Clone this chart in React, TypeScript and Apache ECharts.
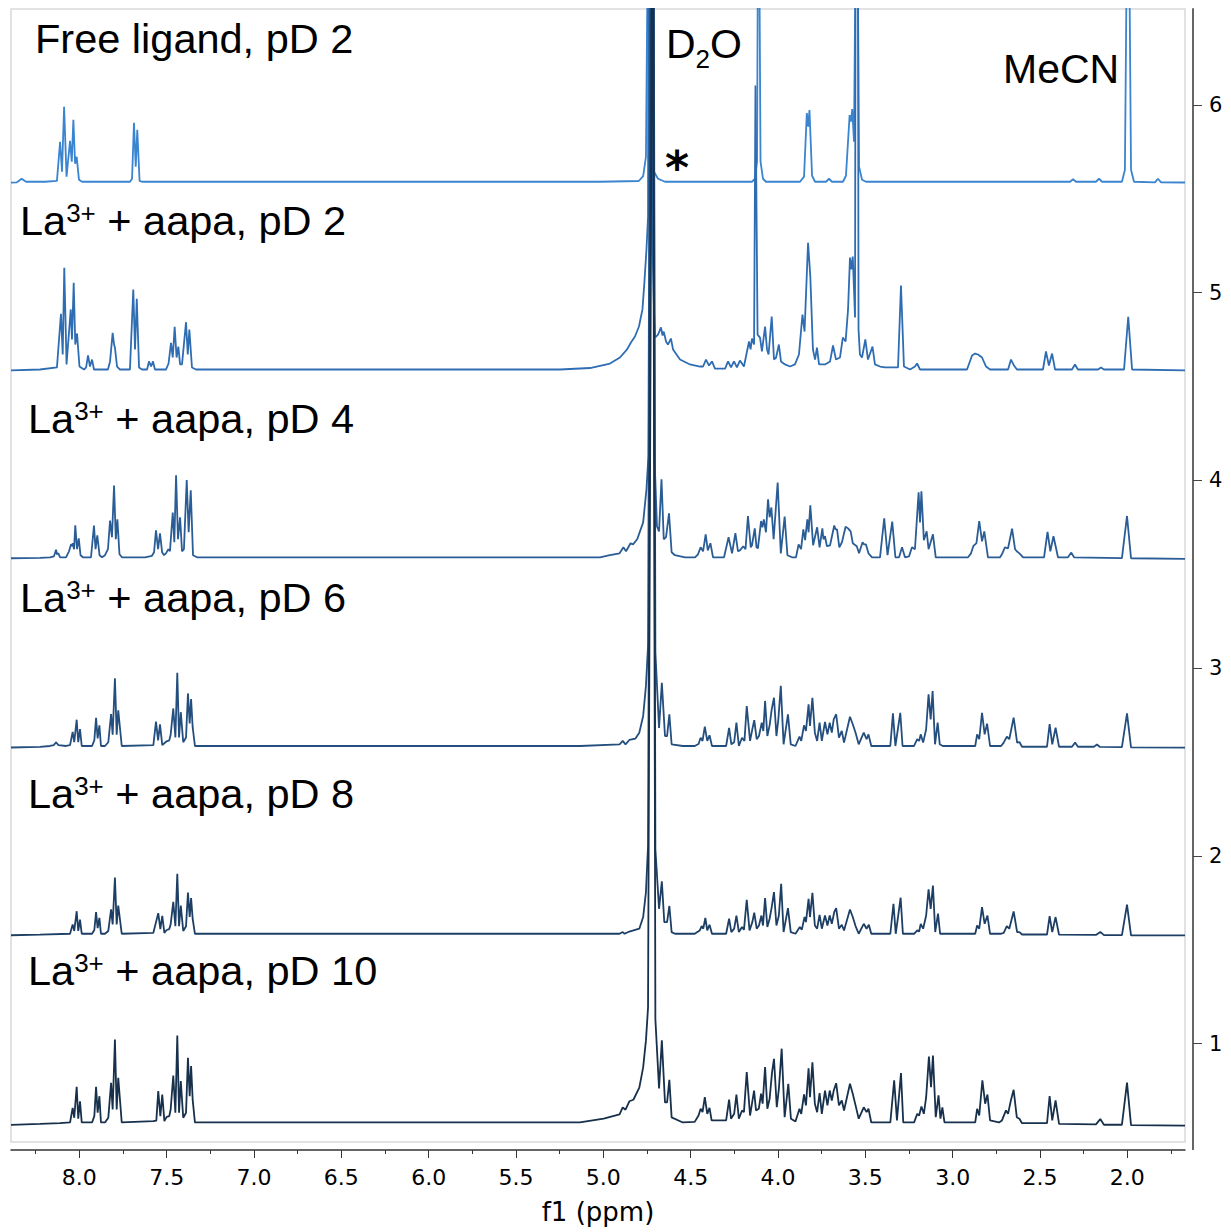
import React, { useEffect, useRef } from "react";
import * as echarts from "echarts";

type Pt = [number, number];

// 1H NMR traces: [chemical shift (ppm), intensity above the trace's own baseline]
const freeLigandPD2: Pt[] = [
  [8.391, -0.005], [8.357, -0.003], [8.33, 0.016], [8.305, 0], [8.196, 0], [8.128, 0.005],
  [8.11, 0.213], [8.099, 0.053], [8.087, 0.399], [8.073, 0.027], [8.053, 0.218], [8.043, 0.107],
  [8.034, 0.33], [8.024, 0.096], [8.015, 0.133], [8.002, 0.011], [7.984, 0], [7.71, 0],
  [7.698, 0.016], [7.687, 0.314], [7.677, 0.08], [7.668, 0.277], [7.655, 0.005], [7.641, 0],
  [5.019, 0], [4.797, 0.004], [4.772, 0.03], [4.756, 0.133], [4.739, 2.0], [4.724, 0.16],
  [4.71, 0.053], [4.687, 0.016], [4.647, 0], [4.149, 0], [4.132, 0.016], [4.12, 0.107],
  [4.112, 2.0], [4.1, 0.107], [4.086, 0.016], [4.069, 0], [3.874, 0], [3.851, 0.027],
  [3.835, 0.366], [3.827, 0.293], [3.82, 0.382], [3.805, 0.032], [3.788, 0], [3.725, 0],
  [3.708, 0.016], [3.691, 0], [3.628, 0], [3.611, 0.032], [3.59, 0.355], [3.582, 0.32],
  [3.575, 0.387], [3.565, 0.213], [3.549, 2.0], [3.536, 0.08], [3.519, 0.011], [3.496, 0],
  [2.328, 0], [2.311, 0.013], [2.294, 0], [2.18, 0], [2.162, 0.016], [2.145, 0], [2.031, 0],
  [2.014, 0.064], [1.996, 2.0], [1.979, 0.064], [1.962, 0], [1.842, -0.003], [1.825, 0.016],
  [1.807, -0.003], [1.67, -0.004],
];

const laAapaPD2: Pt[] = [
  [8.391, -0.005], [8.225, 0], [8.128, 0.011], [8.105, 0.297], [8.095, 0.08], [8.086, 0.542],
  [8.073, 0.027], [8.049, 0.32], [8.042, 0.16], [8.032, 0.462], [8.023, 0.133], [8.013, 0.192],
  [7.999, 0.016], [7.973, 0], [7.961, 0.011], [7.95, 0.075], [7.939, 0.016], [7.927, 0.053],
  [7.916, 0], [7.836, 0], [7.824, 0.043], [7.809, 0.195], [7.801, 0.133], [7.796, 0.117],
  [7.784, 0.016], [7.767, 0], [7.71, 0], [7.691, 0.426], [7.681, 0.107], [7.671, 0.377],
  [7.658, 0.011], [7.641, 0], [7.612, 0], [7.601, 0.043], [7.589, 0.016], [7.578, 0.043],
  [7.567, 0], [7.504, 0], [7.489, 0.032], [7.475, 0.142], [7.465, 0.064], [7.454, 0.227],
  [7.443, 0.064], [7.433, 0.122], [7.423, 0.027], [7.412, 0.027], [7.389, 0.252], [7.379, 0.08],
  [7.37, 0.213], [7.355, 0.011], [7.332, 0],
  [5.248, 0], [5.076, 0.008], [4.962, 0.032], [4.905, 0.064], [4.864, 0.107], [4.842, 0.144],
  [4.819, 0.176], [4.796, 0.229], [4.776, 0.32], [4.765, 0.463], [4.753, 0.639], [4.744, 0.815],
  [4.733, 7], [4.718, 0.639], [4.71, 0.32], [4.704, 0.17], [4.687, 0.186], [4.67, 0.224],
  [4.661, 0.181], [4.654, 0.202], [4.641, 0.149], [4.63, 0.133], [4.613, 0.165], [4.601, 0.107],
  [4.561, 0.053], [4.504, 0.027], [4.447, 0.016], [4.429, 0.016], [4.412, 0.053], [4.395, 0.021],
  [4.378, 0.043], [4.361, 0.005], [4.303, 0.005], [4.286, 0.043], [4.269, 0.011], [4.252, 0.043],
  [4.235, 0.011], [4.218, 0.048], [4.195, 0.016], [4.166, 0.149], [4.157, 0.107], [4.149, 0.165],
  [4.137, 0.133], [4.129, 1.512], [4.117, 0.186], [4.103, 0.17], [4.092, 0.096], [4.074, 0.229],
  [4.063, 0.107], [4.054, 0.08], [4.036, 0.282], [4.023, 0.053], [4.011, 0.064], [3.995, 0.133],
  [3.983, 0.043], [3.96, 0.027], [3.931, 0.016], [3.903, 0.027], [3.88, 0.08], [3.86, 0.293],
  [3.848, 0.202], [3.828, 0.675], [3.815, 0.495], [3.8, 0.107], [3.788, 0.053], [3.777, 0.117],
  [3.765, 0.027], [3.731, 0.027], [3.702, 0.043], [3.685, 0.128], [3.668, 0.053], [3.645, 0.064],
  [3.629, 0.17], [3.613, 0.149], [3.599, 0.32], [3.588, 0.596], [3.58, 0.533], [3.572, 0.602],
  [3.559, 0.277], [3.549, 7], [3.539, 0.213], [3.531, 0.08], [3.519, 0.064], [3.5, 0.16],
  [3.485, 0.053], [3.459, 0.122], [3.445, 0.027], [3.416, 0.016], [3.387, 0.011], [3.313, 0.011],
  [3.296, 0.447], [3.279, 0.016], [3.244, 0], [3.216, 0.016], [3.204, 0.032], [3.187, 0],
  [2.918, 0], [2.889, 0.075], [2.872, 0.085], [2.855, 0.08], [2.832, 0.064], [2.809, 0.016],
  [2.786, 0], [2.683, 0], [2.666, 0.053], [2.649, 0.021], [2.632, 0], [2.483, 0], [2.466, 0.096],
  [2.449, 0.021], [2.431, 0.085], [2.414, 0], [2.317, 0], [2.3, 0.027], [2.283, 0], [2.168, 0],
  [2.151, 0.011], [2.134, 0], [2.019, 0], [1.995, 0.281], [1.973, 0], [1.67, -0.005],
];

const laAapaPD4: Pt[] = [
  [8.391, -0.005], [8.225, -0.003], [8.168, 0], [8.145, 0.005], [8.133, 0.04], [8.128, 0.016],
  [8.12, 0.021], [8.11, 0], [8.076, 0], [8.059, 0.032], [8.047, 0.069], [8.042, 0.059],
  [8.038, 0.075], [8.03, 0.043], [8.023, 0.17], [8.013, 0.043], [8.003, 0.101], [7.993, 0.011],
  [7.979, 0], [7.933, 0], [7.916, 0.169], [7.907, 0.043], [7.897, 0.117], [7.884, 0.011],
  [7.87, 0], [7.853, 0.011], [7.836, 0.043], [7.824, 0.195], [7.813, 0.107], [7.801, 0.382],
  [7.791, 0.096], [7.782, 0.202], [7.77, 0.016], [7.755, 0], [7.624, 0], [7.584, 0.008],
  [7.572, 0.027], [7.561, 0.144], [7.549, 0.043], [7.538, 0.128], [7.526, 0.027], [7.515, 0.011],
  [7.504, 0.021], [7.49, 0.043], [7.481, 0.032], [7.465, 0.238], [7.456, 0.08], [7.446, 0.437],
  [7.435, 0.096], [7.423, 0.213], [7.412, 0.032], [7.401, 0.043], [7.385, 0.412], [7.374, 0.133],
  [7.362, 0.357], [7.349, 0.011], [7.326, 0],
  [5.019, 0], [4.962, 0.011], [4.907, 0.021], [4.885, 0.053], [4.87, 0.032], [4.844, 0.075],
  [4.83, 0.069], [4.806, 0.096], [4.772, 0.186], [4.753, 0.362], [4.742, 0.538], [4.718, 7],
  [4.707, 0.533], [4.693, 0.165], [4.681, 0.138], [4.667, 0.415], [4.654, 0.096], [4.641, 0.107],
  [4.624, 0.234], [4.609, 0.027], [4.59, 0.011], [4.532, 0],
  [4.475, 0], [4.458, 0.016], [4.443, 0.053], [4.429, 0.032], [4.414, 0.122], [4.402, 0.037],
  [4.387, 0.075], [4.372, 0], [4.309, 0], [4.283, 0.107], [4.263, 0.021], [4.244, 0.128],
  [4.229, 0.032], [4.218, 0.037], [4.199, 0.059], [4.186, 0.043], [4.172, 0.22], [4.156, 0.053],
  [4.149, 0.064], [4.133, 0.154], [4.123, 0.053], [4.115, 0.048], [4.097, 0.193], [4.089, 0.16],
  [4.081, 0.202], [4.069, 0.133], [4.057, 0.309], [4.048, 0.213], [4.038, 0.265], [4.025, 0.096],
  [4.002, 0.398], [3.984, 0.021], [3.962, 0.217], [3.946, 0.011], [3.92, 0],
  [3.897, 0], [3.882, 0.069], [3.868, 0.043], [3.855, 0.149], [3.845, 0.091], [3.832, 0.202],
  [3.825, 0.133], [3.815, 0.277], [3.799, 0.064], [3.776, 0.16], [3.762, 0.053], [3.746, 0.154],
  [3.74, 0.096], [3.731, 0.112], [3.72, 0.059], [3.702, 0.064], [3.678, 0.169], [3.671, 0.149],
  [3.662, 0.149], [3.649, 0.053], [3.634, 0.08], [3.613, 0.163], [3.599, 0.154], [3.584, 0.138],
  [3.572, 0.075], [3.549, 0.059], [3.536, 0.021], [3.516, 0.08], [3.508, 0.069], [3.497, 0.069],
  [3.482, 0.021], [3.462, 0],
  [3.416, 0], [3.392, 0.208], [3.373, 0.011], [3.346, 0.19], [3.328, 0], [3.307, 0], [3.29, 0.053],
  [3.273, 0], [3.25, 0.005], [3.233, 0.053], [3.216, 0.043], [3.195, 0.346], [3.187, 0.186],
  [3.179, 0.351], [3.165, 0.091], [3.149, 0.138], [3.138, 0.043], [3.113, 0.122], [3.097, 0],
  [2.912, 0], [2.895, 0.021], [2.882, 0.059], [2.864, 0.075], [2.848, 0.193], [2.832, 0.085],
  [2.819, 0.138], [2.798, 0], [2.729, 0], [2.718, 0.016], [2.701, 0.053], [2.683, 0.048],
  [2.66, 0.153], [2.643, 0.043], [2.633, 0.032], [2.618, 0.021], [2.597, 0], [2.477, 0],
  [2.457, 0.135], [2.441, 0.032], [2.423, 0.112], [2.397, 0], [2.34, 0], [2.321, 0.025],
  [2.305, 0], [2.031, -0.004], [2.002, 0.22], [1.979, -0.005], [1.67, -0.008],
];

const laAapaPD6: Pt[] = [
  [8.391, -0.008], [8.225, -0.005], [8.168, 0], [8.145, 0.005], [8.133, 0.02], [8.12, 0.005],
  [8.076, 0], [8.053, 0.005], [8.038, 0.075], [8.029, 0.02], [8.015, 0.14], [8.006, 0.02],
  [7.996, 0.09], [7.986, 0], [7.927, 0], [7.914, 0.03], [7.904, 0.15], [7.895, 0.04], [7.885, 0.11],
  [7.876, 0], [7.853, 0], [7.834, 0.02], [7.818, 0.17], [7.809, 0.06], [7.796, 0.36], [7.786, 0.06],
  [7.777, 0.19], [7.757, 0], [7.576, 0.005], [7.561, 0.13], [7.549, 0.03], [7.538, 0.115],
  [7.525, 0.005], [7.5, 0.025], [7.485, 0.03], [7.477, 0.06], [7.462, 0.2], [7.45, 0.045],
  [7.439, 0.39], [7.429, 0.045], [7.419, 0.18], [7.405, 0.02], [7.389, 0.045], [7.378, 0.28],
  [7.368, 0.12], [7.36, 0.25], [7.351, 0.1], [7.338, 0], [7.32, 0],
  [5.134, 0], [4.907, 0.009], [4.889, 0.027], [4.873, 0.009], [4.851, 0.032], [4.817, 0.039],
  [4.794, 0.071], [4.772, 0.16], [4.756, 0.32], [4.744, 0.533], [4.718, 7], [4.702, 0.5],
  [4.681, 0.096], [4.665, 0.336], [4.647, 0.053], [4.635, 0.053], [4.622, 0.169], [4.609, 0.009],
  [4.545, 0],
  [4.477, 0], [4.455, 0.011], [4.443, 0.044], [4.432, 0.027], [4.419, 0.103], [4.405, 0.027],
  [4.392, 0.057], [4.378, 0], [4.297, 0], [4.28, 0.097], [4.267, 0.009], [4.251, 0.02],
  [4.238, 0.124], [4.224, 0], [4.206, 0.044], [4.192, 0.027], [4.179, 0.213], [4.16, 0.027],
  [4.147, 0.089], [4.136, 0.138], [4.122, 0.036], [4.109, 0.053], [4.093, 0.124], [4.084, 0.08],
  [4.074, 0.24], [4.061, 0.053], [4.048, 0.11], [4.036, 0.195], [4.023, 0.257], [4.009, 0.053],
  [3.998, 0.142], [3.984, 0.32], [3.968, 0.009], [3.943, 0.169], [3.927, 0.009], [3.9, 0],
  [3.877, 0.05], [3.867, 0.027], [3.851, 0.11], [3.84, 0.08], [3.825, 0.222], [3.817, 0.107],
  [3.803, 0.257], [3.789, 0.071], [3.776, 0.027], [3.762, 0.124], [3.749, 0.027], [3.731, 0.128],
  [3.717, 0.062], [3.704, 0.124], [3.692, 0.071], [3.681, 0.142], [3.667, 0.169], [3.651, 0.045],
  [3.635, 0.08], [3.622, 0.018], [3.588, 0.156], [3.572, 0.116], [3.556, 0.071], [3.538, 0.009],
  [3.509, 0.071], [3.493, 0.036], [3.482, 0.062], [3.466, 0], [3.357, 0], [3.342, 0.174],
  [3.328, 0], [3.3, 0.177], [3.287, 0], [3.221, 0], [3.203, 0.036], [3.192, 0.027],
  [3.183, 0.062], [3.169, 0.018], [3.152, 0.089], [3.138, 0.275], [3.126, 0.142], [3.115, 0.293],
  [3.101, 0.009], [3.086, 0.124], [3.074, 0.009], [3.057, 0],
  [2.871, 0], [2.86, 0.062], [2.848, 0.036], [2.832, 0.177], [2.817, 0.062], [2.803, 0.119],
  [2.786, 0], [2.723, 0], [2.708, 0.018], [2.69, 0.05], [2.676, 0.036], [2.651, 0.151],
  [2.631, 0.018], [2.618, 0.021], [2.603, -0.004], [2.46, -0.004], [2.445, 0.116],
  [2.43, 0.009], [2.411, 0.097], [2.391, -0.004], [2.317, -0.004], [2.299, 0.018],
  [2.283, -0.004], [2.191, -0.004], [2.174, 0.008], [2.157, -0.005], [2.031, -0.006],
  [2.002, 0.174], [1.979, -0.007], [1.67, -0.009],
];

const laAapaPD8: Pt[] = [
  [8.391, -0.008], [8.225, -0.005], [8.053, 0], [8.038, 0.05], [8.029, 0.015], [8.015, 0.12],
  [8.006, 0.015], [7.996, 0.075], [7.986, 0], [7.927, 0], [7.914, 0.02], [7.904, 0.115],
  [7.895, 0.03], [7.885, 0.085], [7.876, 0], [7.853, 0], [7.834, 0.015], [7.818, 0.13],
  [7.809, 0.05], [7.796, 0.3], [7.786, 0.05], [7.777, 0.15], [7.757, 0], [7.576, 0.005],
  [7.548, 0.11], [7.536, 0.025], [7.525, 0.095], [7.513, 0.005], [7.5, 0.02], [7.485, 0.025],
  [7.477, 0.05], [7.462, 0.17], [7.45, 0.04], [7.439, 0.32], [7.429, 0.04], [7.419, 0.15],
  [7.405, 0.015], [7.389, 0.04], [7.378, 0.22], [7.368, 0.09], [7.36, 0.19], [7.351, 0.08],
  [7.338, 0], [7.32, 0],
  [5.134, 0], [4.907, 0], [4.889, 0.009], [4.878, 0], [4.851, 0.012], [4.794, 0.027],
  [4.772, 0.089], [4.756, 0.222], [4.744, 0.469], [4.718, 7], [4.702, 0.45], [4.681, 0.133],
  [4.665, 0.279], [4.651, 0.062], [4.635, 0.062], [4.622, 0.148], [4.609, 0.009], [4.59, 0],
  [4.477, 0], [4.448, 0.018], [4.437, 0.041], [4.428, 0.027], [4.416, 0.084], [4.405, 0.018],
  [4.392, 0.048], [4.378, 0], [4.297, 0], [4.28, 0.08], [4.267, 0.009], [4.251, 0.027],
  [4.238, 0.097], [4.224, 0.009], [4.206, 0.036], [4.195, 0.021], [4.179, 0.181], [4.163, 0.018],
  [4.147, 0.062], [4.136, 0.112], [4.122, 0.027], [4.109, 0.044], [4.095, 0.097], [4.086, 0.044],
  [4.074, 0.19], [4.061, 0.036], [4.048, 0.08], [4.036, 0.142], [4.023, 0.222], [4.009, 0.044],
  [3.995, 0.097], [3.982, 0.266], [3.968, 0.009], [3.943, 0.137], [3.927, 0.009], [3.9, 0],
  [3.875, 0.036], [3.864, 0.021], [3.848, 0.089], [3.84, 0.062], [3.825, 0.186], [3.817, 0.089],
  [3.803, 0.218], [3.789, 0.044], [3.776, 0.027], [3.762, 0.101], [3.749, 0.027], [3.731, 0.097],
  [3.717, 0.044], [3.704, 0.097], [3.692, 0.053], [3.678, 0.116], [3.667, 0.137], [3.651, 0.027],
  [3.635, 0.048], [3.622, 0.018], [3.588, 0.129], [3.572, 0.089], [3.556, 0.041], [3.538, 0],
  [3.509, 0.053], [3.493, 0.027], [3.48, 0.048], [3.466, 0], [3.357, 0], [3.339, 0.16],
  [3.326, 0], [3.298, 0.192], [3.285, 0], [3.221, 0], [3.203, 0.018], [3.192, 0.012],
  [3.183, 0.053], [3.169, 0.027], [3.152, 0.097], [3.138, 0.236], [3.126, 0.133], [3.113, 0.257],
  [3.1, 0.009], [3.084, 0.107], [3.072, 0],
  [2.871, 0], [2.86, 0.044], [2.848, 0.027], [2.832, 0.142], [2.817, 0.053], [2.801, 0.097],
  [2.786, 0], [2.723, 0], [2.708, 0.005], [2.69, 0.041], [2.676, 0.027], [2.651, 0.119],
  [2.631, 0.009], [2.618, 0.009], [2.603, -0.004], [2.46, -0.004], [2.445, 0.094],
  [2.43, 0.009], [2.411, 0.089], [2.391, -0.005], [2.18, -0.006], [2.155, 0.01],
  [2.134, -0.007], [2.031, -0.007], [2.002, 0.155], [1.979, -0.008], [1.67, -0.009],
];

const laAapaPD10: Pt[] = [
  [8.391, -0.013], [8.225, -0.008], [8.11, -0.004], [8.053, 0], [8.038, 0.078], [8.029, 0.025],
  [8.015, 0.19], [8.006, 0.02], [7.996, 0.113], [7.986, 0], [7.927, 0], [7.914, 0.034],
  [7.904, 0.19], [7.895, 0.052], [7.885, 0.14], [7.876, 0], [7.853, 0], [7.834, 0.025],
  [7.818, 0.211], [7.809, 0.069], [7.796, 0.442], [7.786, 0.069], [7.777, 0.238], [7.757, 0],
  [7.576, 0.007], [7.559, 0.01], [7.548, 0.167], [7.536, 0.034], [7.525, 0.149], [7.513, 0.007],
  [7.5, 0.03], [7.485, 0.034], [7.477, 0.069], [7.462, 0.25], [7.45, 0.052], [7.439, 0.463],
  [7.429, 0.052], [7.419, 0.22], [7.405, 0.025], [7.389, 0.052], [7.378, 0.345], [7.368, 0.14],
  [7.36, 0.3], [7.351, 0.122], [7.338, 0], [7.32, 0],
  [5.134, 0], [4.998, 0.021], [4.907, 0.043], [4.889, 0.08], [4.873, 0.068], [4.851, 0.113],
  [4.828, 0.121], [4.794, 0.186], [4.772, 0.293], [4.756, 0.437], [4.744, 0.612], [4.718, 7],
  [4.702, 0.55], [4.681, 0.181], [4.665, 0.437], [4.647, 0.107], [4.635, 0.107], [4.622, 0.227],
  [4.609, 0.027], [4.545, 0],
  [4.477, 0.003], [4.455, 0.037], [4.443, 0.073], [4.432, 0.055], [4.419, 0.135], [4.405, 0.046],
  [4.392, 0.078], [4.38, 0.011], [4.297, 0.011], [4.28, 0.122], [4.269, 0.02], [4.251, 0.046],
  [4.238, 0.148], [4.224, 0.02], [4.206, 0.064], [4.195, 0.055], [4.179, 0.268], [4.16, 0.037],
  [4.149, 0.1], [4.137, 0.17], [4.126, 0.064], [4.11, 0.073], [4.097, 0.153], [4.088, 0.1],
  [4.074, 0.295], [4.061, 0.073], [4.048, 0.126], [4.034, 0.268], [4.023, 0.339], [4.007, 0.081],
  [3.995, 0.179], [3.979, 0.393], [3.962, 0.028], [3.941, 0.206], [3.926, 0.02], [3.9, 0.005],
  [3.877, 0.073], [3.867, 0.046], [3.851, 0.149], [3.84, 0.091], [3.825, 0.289], [3.817, 0.135],
  [3.803, 0.321], [3.789, 0.1], [3.776, 0.055], [3.762, 0.156], [3.749, 0.046], [3.731, 0.17],
  [3.717, 0.091], [3.704, 0.17], [3.692, 0.117], [3.681, 0.17], [3.667, 0.209], [3.651, 0.091],
  [3.635, 0.117], [3.622, 0.064], [3.588, 0.206], [3.572, 0.153], [3.556, 0.091], [3.538, 0.02],
  [3.509, 0.081], [3.493, 0.055], [3.482, 0.073], [3.466, 0], [3.357, 0], [3.335, 0.224],
  [3.319, 0.011], [3.296, 0.263], [3.283, 0], [3.221, 0], [3.203, 0.046], [3.192, 0.037],
  [3.179, 0.085], [3.165, 0.046], [3.152, 0.133], [3.136, 0.351], [3.124, 0.188], [3.113, 0.357],
  [3.097, 0.028], [3.081, 0.144], [3.07, 0.02], [3.059, 0.08], [3.047, 0],
  [2.871, 0], [2.86, 0.073], [2.848, 0.037], [2.83, 0.224], [2.814, 0.1], [2.801, 0.149],
  [2.786, 0.011], [2.735, 0], [2.718, 0.011], [2.695, 0.064], [2.683, 0.046], [2.667, 0.117],
  [2.651, 0.174], [2.633, 0.028], [2.618, 0.02], [2.603, -0.004], [2.46, -0.004], [2.445, 0.14],
  [2.43, 0.011], [2.411, 0.117], [2.391, -0.008], [2.18, -0.01], [2.155, 0.018],
  [2.134, -0.012], [2.031, -0.012], [2.002, 0.212], [1.979, -0.014], [1.67, -0.017],
];

const traces: Pt[][] = [freeLigandPD2, laAapaPD2, laAapaPD4, laAapaPD6, laAapaPD8, laAapaPD10];
const traceBaselines = [5.59, 4.59, 3.59, 2.585, 1.585, 0.58];
const traceColors = ["#3a84d0", "#2f6db3", "#2a5d96", "#234e7e", "#1d3f65", "#17304b"];
const traceNames = ["Free ligand, pD 2", "La3+ + aapa, pD 2", "La3+ + aapa, pD 4", "La3+ + aapa, pD 6", "La3+ + aapa, pD 8", "La3+ + aapa, pD 10"];
const complexPDs = ["pD 2", "pD 4", "pD 6", "pD 8", "pD 10"];

const xMajorTicks = [8.0, 7.5, 7.0, 6.5, 6.0, 5.5, 5.0, 4.5, 4.0, 3.5, 3.0, 2.5, 2.0];
const xMinorTicks = [8.25, 7.75, 7.25, 6.75, 6.25, 5.75, 5.25, 4.75, 4.25, 3.75, 3.25, 2.75, 2.25, 1.75];
const yTicks = [1, 2, 3, 4, 5, 6];

const X_MIN = 1.67;
const X_MAX = 8.391;
const Y_MIN = 0.476;
const Y_MAX = 6.51;

export default function App() {
  const ref = useRef<HTMLDivElement>(null);

  useEffect(() => {
    document.body.style.margin = "0";
    document.body.style.overflow = "hidden";
    const chart = echarts.init(ref.current as HTMLDivElement, null, { renderer: "svg" });

    const labelFont = "'Liberation Sans', Arial, Helvetica, sans-serif";
    const axisFont = "'DejaVu Sans', Verdana, sans-serif";
    const main = { fontSize: 41.5, lineHeight: 41, fontFamily: labelFont, fill: "#000" };
    const sup = { fontSize: 26, lineHeight: 26, fontFamily: labelFont, fill: "#000", verticalAlign: "top" };

    const complexLabelPos: [number, number][] = [
      [20, 220],
      [28, 418],
      [20, 597],
      [28, 793],
      [28, 970],
    ];

    const complexLabels = complexPDs.map((pd, i) => ({
      type: "text",
      x: complexLabelPos[i][0],
      y: complexLabelPos[i][1],
      silent: true,
      style: {
        text: `{m|La}{s|3+}{m| + aapa, ${pd}}`,
        rich: { m: main, s: sup },
        align: "left",
        verticalAlign: "middle",
      },
    }));

    const option = {
      animation: false,
      grid: {
        left: 11,
        right: 46,
        top: 9,
        bottom: 90,
        show: true,
        borderColor: "#d9d9d9",
        borderWidth: 1.5,
        backgroundColor: "transparent",
      },
      xAxis: [
        {
          type: "value",
          min: X_MIN,
          max: X_MAX,
          inverse: true,
          position: "bottom",
          offset: 8,
          name: "f1 (ppm)",
          nameLocation: "middle",
          nameGap: 49,
          nameTextStyle: { fontSize: 26, color: "#000", fontFamily: axisFont },
          axisLine: { show: true, lineStyle: { color: "#333", width: 1.5 } },
          axisTick: { show: true, length: 8, customValues: xMajorTicks, lineStyle: { color: "#333", width: 1 } },
          axisLabel: {
            customValues: xMajorTicks,
            formatter: (v: number) => v.toFixed(1),
            fontSize: 22,
            color: "#000",
            fontFamily: axisFont,
            margin: 16,
          },
          splitLine: { show: false },
        },
        {
          type: "value",
          min: X_MIN,
          max: X_MAX,
          inverse: true,
          position: "bottom",
          offset: 8,
          axisLine: { show: false },
          axisTick: { show: true, length: 4, customValues: xMinorTicks, lineStyle: { color: "#333", width: 1 } },
          axisLabel: { show: false },
          splitLine: { show: false },
        },
      ],
      yAxis: {
        type: "value",
        min: Y_MIN,
        max: Y_MAX,
        position: "right",
        offset: 8,
        axisLine: { show: true, lineStyle: { color: "#666", width: 2 } },
        axisTick: { show: true, length: 9, customValues: yTicks, lineStyle: { color: "#444", width: 1 } },
        axisLabel: { customValues: yTicks, fontSize: 21, color: "#000", fontFamily: axisFont, margin: 16 },
        splitLine: { show: false },
      },
      series: traces.map((trace, i) => ({
        type: "line",
        name: traceNames[i],
        xAxisIndex: 0,
        yAxisIndex: 0,
        showSymbol: false,
        symbol: "none",
        clip: true,
        lineStyle: { color: traceColors[i], width: 1.8 },
        data: trace.map(([ppm, h]) => [ppm, traceBaselines[i] + h]),
        z: 2 + i,
      })),
      graphic: [
        {
          type: "text",
          x: 35,
          y: 38,
          silent: true,
          style: { text: traceNames[0], fontSize: 41.5, fontFamily: labelFont, fill: "#000", align: "left", verticalAlign: "middle" },
        },
        ...complexLabels,
        {
          type: "text",
          x: 666,
          y: 44,
          silent: true,
          style: {
            text: "{m|D}{b|2}{m|O}",
            rich: {
              m: { fontSize: 41, lineHeight: 56, fontFamily: labelFont, fill: "#000" },
              b: { fontSize: 26, lineHeight: 26, fontFamily: labelFont, fill: "#000", verticalAlign: "bottom" },
            },
            align: "left",
            verticalAlign: "middle",
          },
        },
        {
          type: "text",
          x: 1003,
          y: 69,
          silent: true,
          style: { text: "MeCN", fontSize: 41, fontFamily: labelFont, fill: "#000", align: "left", verticalAlign: "middle" },
        },
        {
          type: "text",
          x: 677,
          y: 168,
          silent: true,
          style: { text: "*", fontSize: 46, fontWeight: "bold", fontFamily: axisFont, fill: "#000", align: "center", verticalAlign: "middle" },
        },
        {
          type: "line",
          silent: true,
          shape: { x1: 1193, y1: 1142, x2: 1193, y2: 1150 },
          style: { stroke: "#666", lineWidth: 2 },
        },
      ],
    };

    chart.setOption(option as any);
    return () => {
      chart.dispose();
    };
  }, []);

  return <div ref={ref} style={{ width: 1231, height: 1232 }} />;
}
